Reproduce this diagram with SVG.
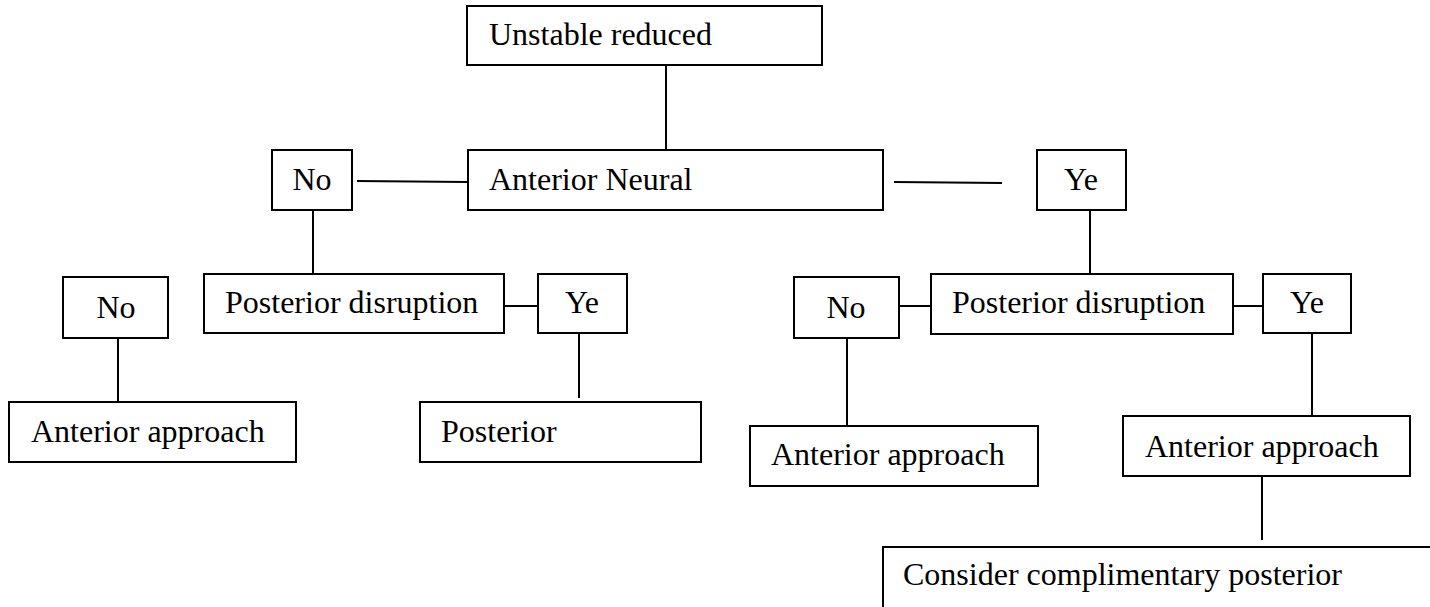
<svg xmlns="http://www.w3.org/2000/svg" width="1430" height="607" viewBox="0 0 1430 607">
<style>
rect{fill:#fff;stroke:#000;stroke-width:2}
text{font-family:"Liberation Serif","Times New Roman",serif;font-size:32px;fill:#000}
.c{text-anchor:middle}
#connectors line{stroke:#000;stroke-width:2}
</style>
<rect x="0" y="0" width="1430" height="607" style="stroke:none"/>
<g id="connectors">
<line x1="666" y1="65" x2="666" y2="150"/>
<line x1="357" y1="181" x2="467" y2="182"/>
<line x1="894" y1="182" x2="1002" y2="183"/>
<line x1="313" y1="210" x2="313" y2="274"/>
<line x1="1090" y1="210" x2="1090" y2="274"/>
<line x1="504" y1="306" x2="538" y2="306"/>
<line x1="579" y1="333" x2="579" y2="398"/>
<line x1="118" y1="338" x2="118" y2="402"/>
<line x1="899" y1="306" x2="931" y2="306"/>
<line x1="1233" y1="306" x2="1265" y2="306"/>
<line x1="847" y1="338" x2="847" y2="426"/>
<line x1="1312" y1="333" x2="1312" y2="416"/>
<line x1="1262" y1="476" x2="1262" y2="540"/>
</g>
<g id="n-unstable"><rect x="467" y="6" width="355" height="59"/><text x="489" y="45">Unstable reduced</text></g>
<g id="n-neural"><rect x="468" y="150" width="415" height="60"/><text x="489" y="190">Anterior Neural</text></g>
<g id="n-no1"><rect x="272" y="150" width="80" height="60"/><text class="c" x="312" y="190">No</text></g>
<g id="n-ye1"><rect x="1037" y="150" width="89" height="60"/><text class="c" x="1081" y="190">Ye</text></g>
<g id="n-pd1"><rect x="204" y="274" width="300" height="59"/><text x="225" y="313">Posterior disruption</text></g>
<g id="n-ye2"><rect x="538" y="274" width="89" height="59"/><text class="c" x="582" y="313">Ye</text></g>
<g id="n-no2"><rect x="63" y="277" width="105" height="61"/><text class="c" x="116" y="318">No</text></g>
<g id="n-aa1"><rect x="9" y="402" width="287" height="60"/><text x="31" y="442">Anterior approach</text></g>
<g id="n-post"><rect x="420" y="402" width="281" height="60"/><text x="441" y="442">Posterior</text></g>
<g id="n-pd2"><rect x="931" y="274" width="302" height="60"/><text x="952" y="313">Posterior disruption</text></g>
<g id="n-no3"><rect x="794" y="277" width="105" height="61"/><text class="c" x="846" y="318">No</text></g>
<g id="n-ye3"><rect x="1263" y="274" width="88" height="59"/><text class="c" x="1307" y="313">Ye</text></g>
<g id="n-aa2"><rect x="750" y="426" width="288" height="60"/><text x="771" y="465">Anterior approach</text></g>
<g id="n-aa3"><rect x="1123" y="416" width="287" height="60"/><text x="1145" y="457">Anterior approach</text></g>
<g id="n-consider"><rect x="883" y="547" width="560" height="70"/><text x="903" y="585">Consider complimentary posterior</text></g>
</svg>
